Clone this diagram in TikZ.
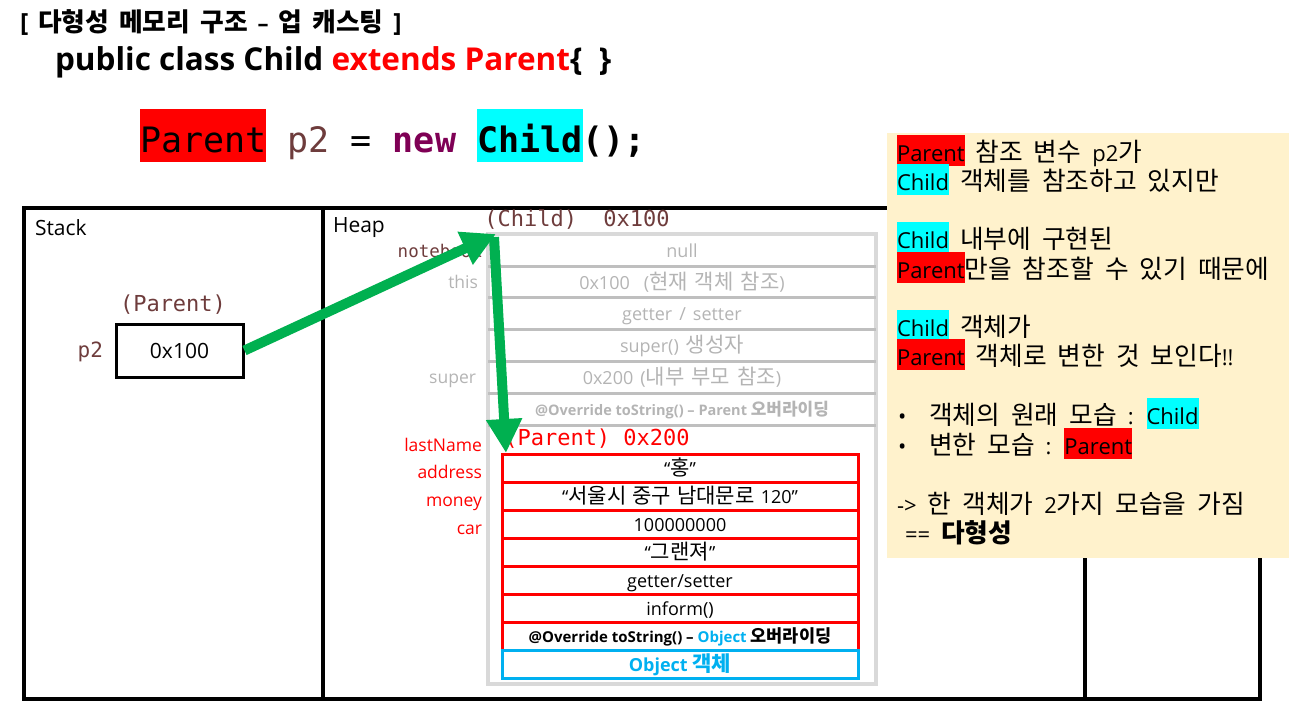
\documentclass[tikz,border=0pt]{standalone}
\usepackage{fontspec}
\setmainfont{Open Sans}
\newfontfamily\krfont[Scale=1.17]{Noto Sans CJK KR}
\newfontfamily\mono{DejaVu Sans Mono}
\XeTeXinterchartokenstate=1
\newXeTeXintercharclass\KRclass
\newcount\kcnt
\kcnt="AC00
\loop
  \XeTeXcharclass\kcnt=\KRclass
  \ifnum\kcnt<"D7A3 \advance\kcnt by 1
\repeat
\XeTeXinterchartoks 0 \KRclass = {\krfont}
\XeTeXinterchartoks 4095 \KRclass = {\krfont}
\XeTeXinterchartoks \KRclass 0 = {\rmfamily}
\XeTeXinterchartoks \KRclass 4095 = {\rmfamily}
\newcommand{\sps}[1]{\spaceskip=#1 plus 1pt\relax}
\usetikzlibrary{arrows.meta}
\definecolor{brownc}{RGB}{110,60,60}
\definecolor{purplec}{RGB}{127,0,85}
\definecolor{grn}{RGB}{0,176,80}
\definecolor{cyanhl}{RGB}{0,255,255}
\definecolor{redhl}{RGB}{255,0,0}
\definecolor{objblue}{RGB}{0,176,240}
\definecolor{yel}{RGB}{255,242,204}
\definecolor{lgray}{RGB}{217,217,217}
\definecolor{mgray}{RGB}{191,191,191}
\definecolor{tgray}{RGB}{180,180,180}
\newcommand{\hl}[2]{{\setlength\fboxsep{0pt}\colorbox{#1}{\rule[-0.22em]{0pt}{1.42em}#2}}}
\newcommand{\hlcode}[2]{{\setlength\fboxsep{0pt}\colorbox{#1}{\rule[-0.29em]{0pt}{1.52em}#2}}}
\newcommand{\bigbr}[1]{{\fontsize{25}{26}\selectfont #1}}
\begin{document}
\begin{tikzpicture}[x=1pt,y=-1pt,
  txt/.style={inner sep=0pt, outer sep=0pt},
  frame/.style={line width=3.5pt, draw=black},
  grayrow/.style={txt, anchor=base, text=tgray, font=\fontsize{18}{21}\selectfont\sps{7pt}},
  redrow/.style={txt, anchor=base, text=black, font=\fontsize{18}{21}\selectfont\sps{6pt}},
  redlabel/.style={txt, anchor=base east, text=redhl, font=\fontsize{17.5}{21}\selectfont},
  graylabel/.style={txt, anchor=base east, text=tgray, font=\fontsize{17.5}{21}\selectfont},
  ref/.style={draw=grn, line width=10pt, -{Triangle[length=34pt,width=34pt]}},
  note/.style={txt, anchor=base west, font=\fontsize{22}{26}\selectfont\sps{11pt}}
]
\useasboundingbox (0,0) rectangle (1296,721);

% titles
\node[txt, anchor=base west, font=\fontsize{22}{26}\selectfont\bfseries\sps{10pt}] (title) at (20,31) {\bigbr{[} 다형성 메모리 구조 – 업 캐스팅 \bigbr{]}};
\node[txt, anchor=west, font=\fontsize{31.5}{36}\selectfont\bfseries] (decl) at (55,62) {public class Child \textcolor{redhl}{extends Parent}\{\ \ \}};
\node[txt, anchor=base west, font=\fontsize{35}{40}\selectfont\mono] (code) at (140,152)
  {\hlcode{redhl}{Parent} \textcolor{brownc}{p2} = \textcolor{purplec}{\bfseries new} \hlcode{cyanhl}{\bfseries Child}\textbf{();}};

% frames
\draw[frame] (24,208) rectangle (1260,699);
\draw[frame] (323,208) -- (323,699);
\draw[frame] (1085,208) -- (1085,699);
\node[txt, anchor=west, font=\fontsize{21}{26}\selectfont] (stack) at (35,228) {Stack};
\node[txt, anchor=west, font=\fontsize{21}{26}\selectfont] (heap) at (333,228) {Heap};

% stack
\node[txt, text=brownc, font=\fontsize{22}{26}\selectfont\mono] (ptype) at (173,305) {(Parent)};
\node[draw, line width=3pt, minimum width=127pt, minimum height=53pt, inner sep=0pt, font=\fontsize{21}{26}\selectfont] (p2box) at (179.5,350.5) {0x100};
\node[txt, anchor=east, text=brownc, font=\fontsize{21}{24}\selectfont\mono] (p2) at (103,352) {p2};

% heap child object
\draw[lgray, line width=4pt] (488,234) rectangle (876,684);
\foreach \yy in {266,297,329,361,393,425} \draw[mgray, line width=3pt] (488,\yy) -- (876,\yy);
\node[txt, text=brownc, font=\fontsize{22}{26}\selectfont\mono] (childlbl) at (577,220) {(Child)\ \ 0x100};

\node[grayrow] (r1) at (682,257) {null};
\node[grayrow] (r2) at (682,289) {0x100\ \ (현재 객체 참조)};
\node[grayrow] (r3) at (682,320) {getter / setter};
\node[grayrow] (r4) at (682,352) {super() 생성자};
\node[grayrow] (r5) at (682,384) {0x200 (내부 부모 참조)};
\node[grayrow, font=\fontsize{14.5}{18}\selectfont\bfseries] (r6) at (682,415) {@Override toString() – Parent 오버라이딩};

\node[txt, anchor=base east, text=brownc, font=\fontsize{17.5}{20}\selectfont\mono] (lnb) at (482,257) {notebook};
\node[graylabel] (lthis) at (478,288) {this};
\node[graylabel] (lsuper) at (476,383) {super};

% parent object
\node[txt, text=redhl, font=\fontsize{22}{26}\selectfont\mono] (parentlbl) at (597,439) {(Parent) 0x200};
\draw[redhl, line width=3pt] (502,454) rectangle (858,650);
\foreach \yy in {482,510,538,566,594,622} \draw[redhl, line width=3pt] (502,\yy) -- (858,\yy);
\draw[objblue, line width=3pt] (502,650) rectangle (858,678);

\node[redrow] (q1) at (680,475) {“홍”};
\node[redrow] (q2) at (680,503) {“서울시 중구 남대문로 120”};
\node[redrow] (q3) at (680,531) {100000000};
\node[redrow] (q4) at (680,559) {“그랜져”};
\node[redrow] (q5) at (680,587) {getter/setter};
\node[redrow] (q6) at (680,615) {inform()};
\node[redrow, font=\fontsize{15}{18}\selectfont\bfseries] (q7) at (680,642) {@Override toString() – \textcolor{objblue}{Object} 오버라이딩};
\node[redrow, text=objblue, font=\fontsize{18}{21}\selectfont\bfseries] (q8) at (680,671) {Object 객체};

\node[redlabel] (l1) at (482,451) {lastName};
\node[redlabel] (l2) at (482,478) {address};
\node[redlabel] (l3) at (482,506) {money};
\node[redlabel] (l4) at (482,534) {car};

% arrows
\coordinate (cref) at (496,234);
\coordinate (pref) at (506,453);
\draw[ref] (p2box.east) -- (cref);
\draw[ref] (494,237) -- (pref);

% yellow note
\fill[yel] (887,133) rectangle (1289,558);
\node[note] (n1) at (897,161) {\hl{redhl}{Parent} 참조 변수 p2가};
\node[note] (n2) at (897,190) {\hl{cyanhl}{Child} 객체를 참조하고 있지만};
\node[note] (n3) at (897,248) {\hl{cyanhl}{Child} 내부에 구현된};
\node[note] (n4) at (897,278) {\hl{redhl}{Parent}만을 참조할 수 있기 때문에};
\node[note] (n5) at (897,336) {\hl{cyanhl}{Child} 객체가};
\node[note] (n6) at (897,365) {\hl{redhl}{Parent} 객체로 변한 것 보인다!!};
\node[note] (b1) at (898,424) {•};
\node[note] (n7) at (929,424) {객체의 원래 모습 : \hl{cyanhl}{Child}};
\node[note] (b2) at (898,454) {•};
\node[note] (n8) at (929,454) {변한 모습 : \hl{redhl}{Parent}};
\node[note] (n9) at (897,513) {-> 한 객체가 2가지 모습을 가짐};
\node[note] (n10) at (905,542) {== \textbf{다형성}};
\end{tikzpicture}
\end{document}
